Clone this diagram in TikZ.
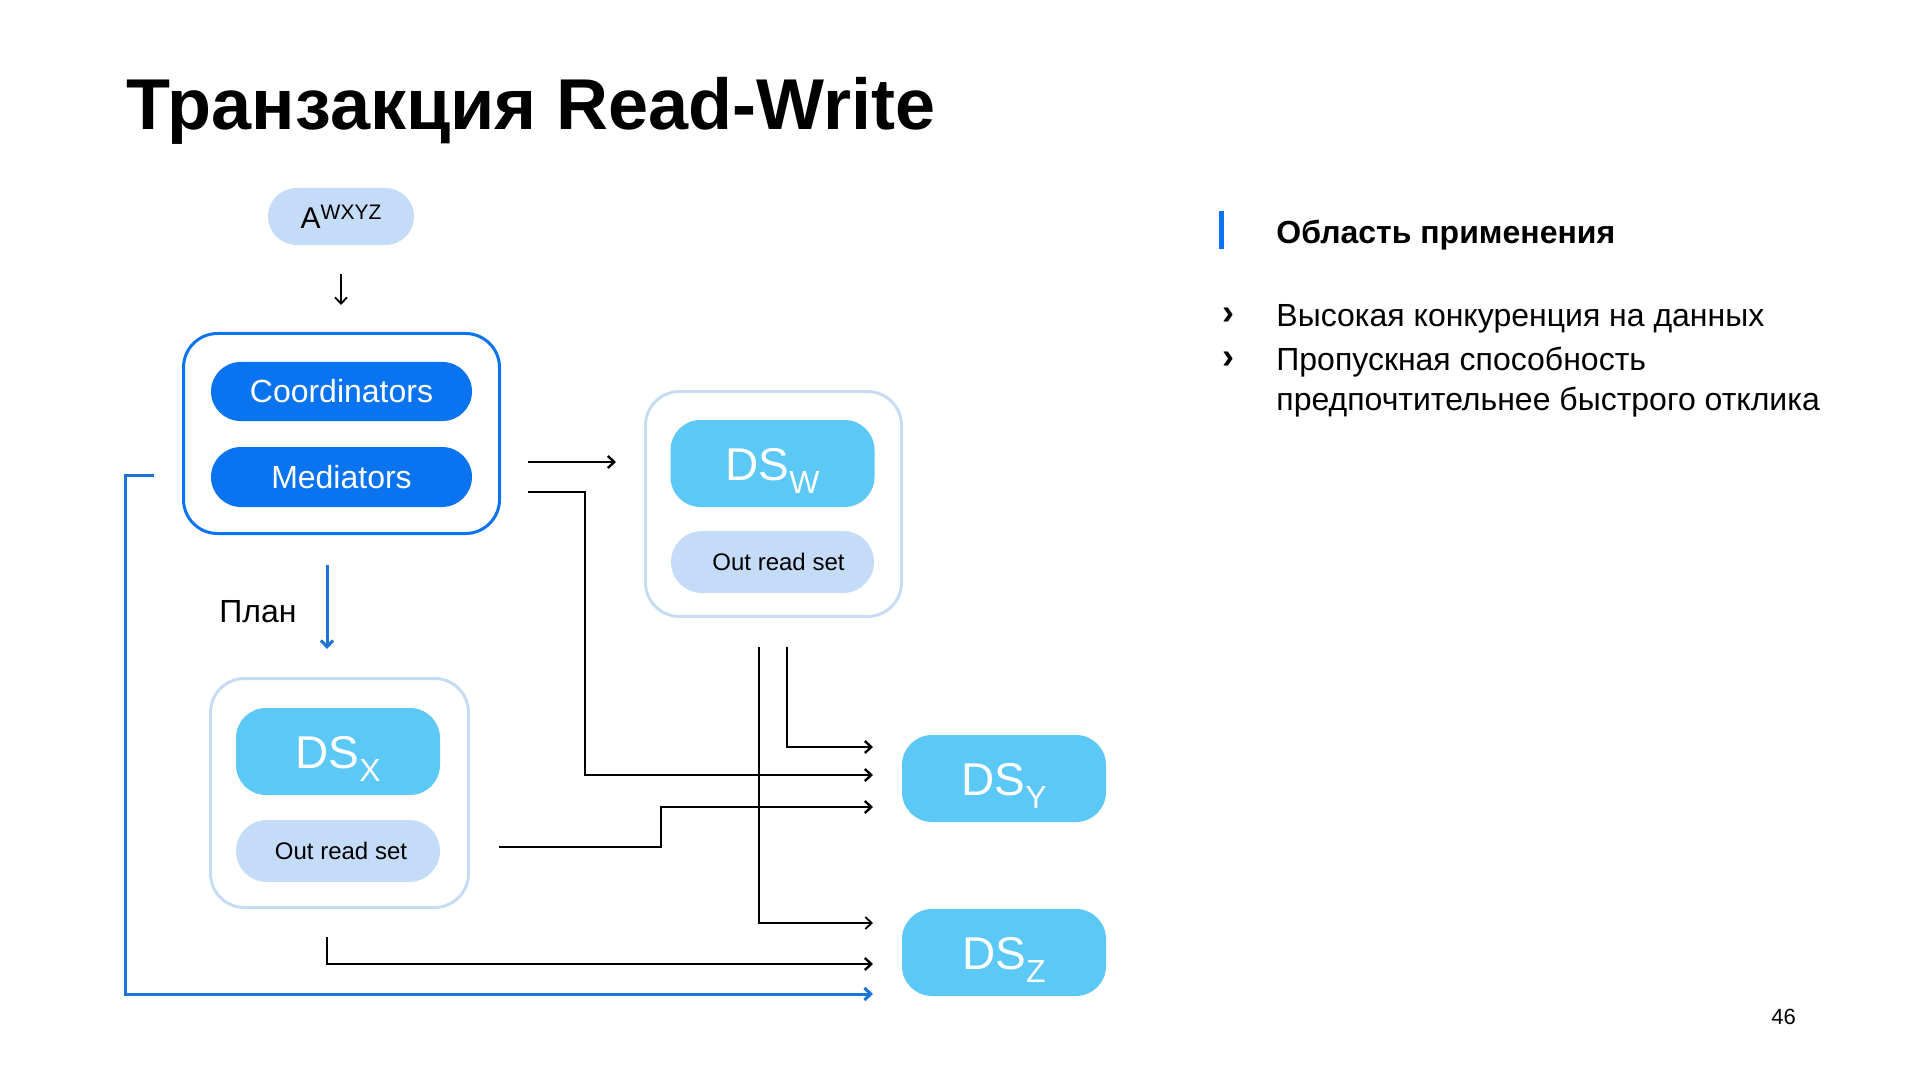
\documentclass[tikz,border=0pt]{standalone}
\usepackage{fontspec}
\setmainfont{Liberation Sans}
\usetikzlibrary{arrows.meta}
\definecolor{mainblue}{HTML}{0A73F0}
\definecolor{lineblue}{HTML}{1B74D6}
\definecolor{paleblue}{HTML}{C5DCF8}
\definecolor{paleborder}{HTML}{C6DCF5}
\definecolor{skyblue}{HTML}{5BC8F5}
\tikzset{
  pill/.style={rectangle, inner sep=0pt, align=center},
  darkpill/.style={pill, fill=mainblue, text=white, font=\fontsize{16}{19}\selectfont},
  palepill/.style={pill, fill=paleblue, text=black, font=\fontsize{12}{14}\selectfont},
  dspill/.style={pill, fill=skyblue, text=white, minimum width=102pt, minimum height=43.5pt, rounded corners=15pt, text height=17pt, text depth=0pt, font=\fontsize{23}{27}\selectfont},
  framebox/.style={rectangle, rounded corners=17pt, line width=1.5pt, inner sep=0pt},
  txt/.style={inner sep=0pt, anchor=base west},
  arr/.style={-{Straight Barb[length=3.2pt,width=6pt]}, line width=1.2pt, black},
  thinarr/.style={-{Straight Barb[length=3.2pt,width=6pt]}, line width=0.9pt, black},
  bluearr/.style={-{Straight Barb[length=3.2pt,width=6pt]}, line width=1.5pt, lineblue},
}
\newcommand{\dslabel}[1]{DS\raisebox{-6.5pt}{\fontsize{16}{18}\selectfont #1}}
\begin{document}
\begin{tikzpicture}[x=0.5pt,y=-0.5pt]
\useasboundingbox (0,0) rectangle (1920,1080);

% title
\node[txt, font=\fontsize{36}{42}\selectfont\bfseries] (title) at (126,130) {Транзакция Read-Write};

% A^WXYZ
\node[palepill, minimum width=73pt, minimum height=28.5pt, rounded corners=14.25pt] (aw) at (341,216.5)
  {\fontsize{15}{18}\selectfont A\raisebox{4.5pt}{\fontsize{10.5}{12}\selectfont WXYZ}};

% coordinator frame
\node[framebox, draw=mainblue, minimum width=158pt, minimum height=100pt] (coord) at (341.5,433.5) {};
\node[darkpill, minimum width=130.5pt, minimum height=29.5pt, rounded corners=14.75pt] (coordinators) at (341.5,391.5) {Coordinators};
\node[darkpill, minimum width=130.5pt, minimum height=30pt, rounded corners=15pt] (mediators) at (341.5,477) {Mediators};

% DS_W frame
\node[framebox, draw=paleborder, minimum width=128pt, minimum height=112.5pt] (dswbox) at (773.5,504) {};
\node[dspill] (dsw) at (772.5,463.5) {\dslabel{W}};
\node[palepill, minimum width=101.5pt, minimum height=31pt, rounded corners=15.5pt] (dswr) at (772.5,562) {\hspace*{6pt}Out read set};

% DS_X frame
\node[framebox, draw=paleborder, minimum width=129pt, minimum height=114.5pt] (dsxbox) at (339.5,793) {};
\node[dspill] (dsx) at (338,751.5) {\dslabel{X}};
\node[palepill, minimum width=102pt, minimum height=31pt, rounded corners=15.5pt] (dsxr) at (338,851) {\hspace*{3pt}Out read set};

% DS_Y, DS_Z
\node[dspill] (dsy) at (1004,778.5) {\dslabel{Y}};
\node[dspill] (dsz) at (1004,952.5) {\dslabel{Z}};

% plan label
\node[txt, font=\fontsize{16}{19}\selectfont] (plan) at (219,622) {План};

% coordinates for connector ends
\coordinate (awout) at (341,274);
\coordinate (coordin) at (341,305);
\coordinate (c1s) at (528,462);
\coordinate (c1e) at (616,462);
\coordinate (c2s) at (528,492);
\coordinate (c2e) at (873,775);
\coordinate (w1s) at (759,647);
\coordinate (w1e) at (873,923);
\coordinate (w2s) at (787,647);
\coordinate (w2e) at (873,747);
\coordinate (x1s) at (499,847);
\coordinate (x1e) at (873,807);
\coordinate (x2s) at (327,937);
\coordinate (x2e) at (873,964);
\coordinate (bs) at (154,475);
\coordinate (be) at (873,994);
\coordinate (ps) at (327,565);
\coordinate (pe) at (327,649);

% connectors
\draw[thinarr] (awout) -- (coordin);
\draw[arr] (c1s) -- (c1e);
\draw[arr] (c2s) -- (585,492) -- (585,775) -- (c2e);
\draw[thinarr] (w1s) -- (759,923) -- (w1e);
\draw[arr] (w2s) -- (787,747) -- (w2e);
\draw[arr] (x1s) -- (661,847) -- (661,807) -- (x1e);
\draw[arr] (x2s) -- (327,964) -- (x2e);
\draw[bluearr] (bs) -- (125,475) -- (125,994) -- (be);
\draw[bluearr] (ps) -- (pe);

% right side text
\fill[mainblue] (1219,211) rectangle (1224,249);
\node[txt, font=\fontsize{16}{19}\selectfont\bfseries] (head) at (1276,244) {Область применения};
\node[txt, font=\fontsize{18}{20}\selectfont\bfseries] (b1) at (1222,325) {›};
\node[txt, font=\fontsize{18}{20}\selectfont\bfseries] (b2) at (1222,369) {›};
\node[txt, font=\fontsize{16}{19}\selectfont] (l1) at (1276,327) {Высокая конкуренция на данных};
\node[txt, font=\fontsize{16}{19}\selectfont] (l2) at (1276,371) {Пропускная способность};
\node[txt, font=\fontsize{16}{19}\selectfont] (l3) at (1276,410) {предпочтительнее быстрого отклика};

% page number
\node[txt, font=\fontsize{11}{13}\selectfont] (page) at (1771,1024) {46};
\end{tikzpicture}
\end{document}
